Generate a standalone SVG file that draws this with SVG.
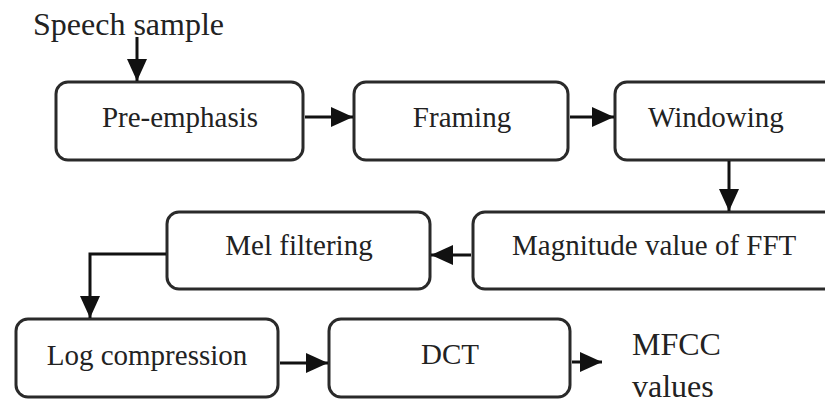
<svg xmlns="http://www.w3.org/2000/svg" width="825" height="403" viewBox="0 0 825 403">
<style>
.box{fill:#fff;stroke:#2a2a2a;stroke-width:3}
.t{font-family:"Liberation Serif","Times New Roman",serif;font-size:29px;fill:#222}
.c{text-anchor:middle}
.big{font-size:32px}
.con{fill:none;stroke:#111;stroke-width:3;marker-end:url(#ah)}
</style>
<defs>
<marker id="ah" markerUnits="userSpaceOnUse" markerWidth="22" markerHeight="20" refX="22" refY="10" orient="auto">
<path d="M0,0 L22,10 L0,20 z" fill="#111"/>
</marker>
</defs>
<rect width="825" height="403" fill="#fff"/>
<g id="speech"><text class="t big" x="33" y="35">Speech sample</text></g>
<g id="pre"><rect class="box" x="56" y="82" width="247" height="78" rx="12"/><text class="t c" x="180" y="127">Pre-emphasis</text></g>
<g id="framing"><rect class="box" x="354" y="82" width="214" height="78" rx="12"/><text class="t c" x="462" y="127">Framing</text></g>
<g id="windowing"><rect class="box" x="615" y="82" width="240" height="78" rx="12"/><text class="t" x="648" y="127">Windowing</text></g>
<g id="magnitude"><rect class="box" x="473" y="212" width="380" height="77" rx="12"/><text class="t" x="512" y="255">Magnitude value of FFT</text></g>
<g id="mel"><rect class="box" x="167" y="212" width="263" height="77" rx="12"/><text class="t c" x="299" y="255">Mel filtering</text></g>
<g id="log"><rect class="box" x="16" y="319" width="262" height="78" rx="12"/><text class="t c" x="147" y="365">Log compression</text></g>
<g id="dct"><rect class="box" x="329" y="319" width="241" height="78" rx="12"/><text class="t c" x="450" y="364">DCT</text></g>
<g id="mfcc"><text class="t big" x="632" y="355">MFCC</text><text class="t big" x="632" y="397">values</text></g>
<g id="connectors">
<path class="con" d="M137,37 L137,81"/>
<path class="con" d="M305,117 L353,117"/>
<path class="con" d="M570,117 L614,117"/>
<path class="con" d="M729,161 L729,211"/>
<path class="con" d="M471,255 L431,255"/>
<path class="con" d="M166,254 L90,254 L90,318"/>
<path class="con" d="M280,363 L328,363"/>
<path class="con" d="M572,362 L602,362"/>
</g>
</svg>
